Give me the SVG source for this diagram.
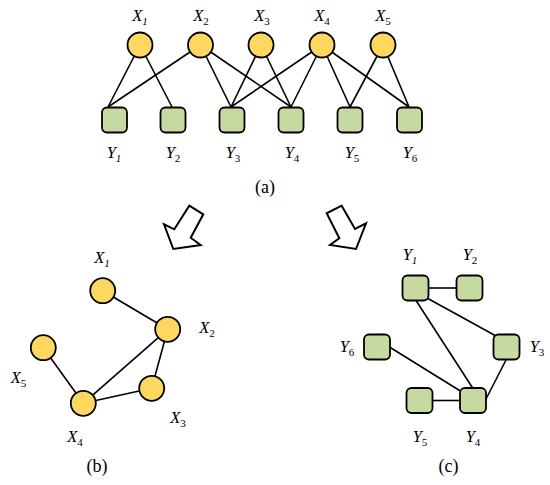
<svg xmlns="http://www.w3.org/2000/svg" width="550" height="485" viewBox="0 0 550 485">
<style>
.c{fill:#fed761;stroke:#000;stroke-width:1.8}
.s{fill:#c6d9a0;stroke:#000;stroke-width:1.8}
.e line{stroke:#000;stroke-width:1.6}
.arr{fill:#fff;stroke:#000;stroke-width:2;stroke-linejoin:miter}
text{font-family:"Liberation Serif","Times New Roman",serif;font-size:16.5px;fill:#000}
.v{font-style:italic;text-anchor:middle}
.cap{text-anchor:middle;font-size:18px}
.sub{font-size:11px;font-style:normal}
.si{font-size:11px;font-style:italic}
</style>
<rect width="550" height="485" fill="#fff"/>

<g id="connectors" class="e">
<line x1="140" y1="45" x2="108" y2="107"/>
<line x1="140" y1="45" x2="172" y2="107"/>
<line x1="200.5" y1="45" x2="108" y2="107"/>
<line x1="200.5" y1="45" x2="231" y2="107"/>
<line x1="200.5" y1="45" x2="291" y2="107"/>
<line x1="261" y1="45" x2="231" y2="107"/>
<line x1="261" y1="45" x2="291" y2="107"/>
<line x1="322" y1="45" x2="231" y2="107"/>
<line x1="322" y1="45" x2="291" y2="107"/>
<line x1="322" y1="45" x2="350" y2="107"/>
<line x1="322" y1="45" x2="409" y2="107"/>
<line x1="383" y1="45" x2="350" y2="107"/>
<line x1="383" y1="45" x2="409" y2="107"/>
<line x1="102.7" y1="290.7" x2="167.7" y2="329.3"/>
<line x1="167.7" y1="329.3" x2="83.3" y2="403.3"/>
<line x1="167.7" y1="329.3" x2="151.7" y2="388.3"/>
<line x1="151.7" y1="388.3" x2="83.3" y2="403.3"/>
<line x1="43.3" y1="347.7" x2="83.3" y2="403.3"/>
<line x1="428" y1="288" x2="457" y2="288"/>
<line x1="427" y1="298" x2="496" y2="336"/>
<line x1="415.7" y1="300" x2="473.3" y2="389"/>
<line x1="389" y1="346.7" x2="462" y2="392"/>
<line x1="506.5" y1="359" x2="485.5" y2="400"/>
<line x1="431" y1="400.5" x2="461" y2="400.5"/>
</g>

<g id="arrow-left"><polygon class="arr" points="189.3,205.7 203.3,214.3 190.7,237.7 200.7,245 173.3,249 164,224.3 174.3,229.3"/></g>
<g id="arrow-right"><polygon class="arr" points="341.7,205.7 326.7,213.3 339.3,238.3 330,245 356,249 366,223.3 355,229"/></g>

<g id="aX1"><circle class="c" cx="140" cy="45" r="12.5"/><text class="v" x="140" y="21">X<tspan class="si" dy="4">1</tspan></text></g>
<g id="aX2"><circle class="c" cx="200.5" cy="45" r="12.5"/><text class="v" x="201" y="21">X<tspan class="sub" dy="4">2</tspan></text></g>
<g id="aX3"><circle class="c" cx="261" cy="45" r="12.5"/><text class="v" x="262" y="21">X<tspan class="sub" dy="4">3</tspan></text></g>
<g id="aX4"><circle class="c" cx="322" cy="45" r="12.5"/><text class="v" x="322" y="21">X<tspan class="sub" dy="4">4</tspan></text></g>
<g id="aX5"><circle class="c" cx="383" cy="45" r="12.5"/><text class="v" x="383" y="21">X<tspan class="sub" dy="4">5</tspan></text></g>

<g id="aY1"><rect class="s" x="102" y="107.5" width="25" height="25" rx="5"/><text class="v" x="114" y="158">Y<tspan class="si" dy="4">1</tspan></text></g>
<g id="aY2"><rect class="s" x="160.5" y="107.5" width="25" height="25" rx="5"/><text class="v" x="173" y="158">Y<tspan class="sub" dy="4">2</tspan></text></g>
<g id="aY3"><rect class="s" x="219.5" y="107.5" width="25" height="25" rx="5"/><text class="v" x="233" y="158">Y<tspan class="sub" dy="4">3</tspan></text></g>
<g id="aY4"><rect class="s" x="278.5" y="107.5" width="25" height="25" rx="5"/><text class="v" x="292" y="158">Y<tspan class="sub" dy="4">4</tspan></text></g>
<g id="aY5"><rect class="s" x="337.5" y="107.5" width="25" height="25" rx="5"/><text class="v" x="352" y="158">Y<tspan class="sub" dy="4">5</tspan></text></g>
<g id="aY6"><rect class="s" x="397" y="107.5" width="25" height="25" rx="5"/><text class="v" x="410" y="158">Y<tspan class="sub" dy="4">6</tspan></text></g>
<text class="cap" x="265" y="193">(a)</text>

<g id="bX1"><circle class="c" cx="102.7" cy="290.7" r="12.5"/><text class="v" x="102" y="263">X<tspan class="si" dy="4">1</tspan></text></g>
<g id="bX2"><circle class="c" cx="167.7" cy="329.3" r="12.5"/><text class="v" x="207" y="333">X<tspan class="sub" dy="4">2</tspan></text></g>
<g id="bX3"><circle class="c" cx="151.7" cy="388.3" r="12.5"/><text class="v" x="178" y="423">X<tspan class="sub" dy="4">3</tspan></text></g>
<g id="bX4"><circle class="c" cx="83.3" cy="403.3" r="12.5"/><text class="v" x="75" y="441.5">X<tspan class="sub" dy="4">4</tspan></text></g>
<g id="bX5"><circle class="c" cx="43.3" cy="347.7" r="12.5"/><text class="v" x="18.5" y="382.5">X<tspan class="sub" dy="4">5</tspan></text></g>
<text class="cap" x="97" y="471.5">(b)</text>

<g id="cY1"><rect class="s" x="402.5" y="275.5" width="26" height="25" rx="5"/><text class="v" x="410" y="260">Y<tspan class="si" dy="4">1</tspan></text></g>
<g id="cY2"><rect class="s" x="456.5" y="275.5" width="26" height="25" rx="5"/><text class="v" x="470" y="260">Y<tspan class="sub" dy="4">2</tspan></text></g>
<g id="cY3"><rect class="s" x="493.5" y="334.5" width="26" height="25" rx="5"/><text class="v" x="537" y="351.5">Y<tspan class="sub" dy="4">3</tspan></text></g>
<g id="cY4"><rect class="s" x="460" y="388" width="26" height="25" rx="5"/><text class="v" x="473" y="441.5">Y<tspan class="sub" dy="4">4</tspan></text></g>
<g id="cY5"><rect class="s" x="406.5" y="388" width="26" height="25" rx="5"/><text class="v" x="420" y="441.5">Y<tspan class="sub" dy="4">5</tspan></text></g>
<g id="cY6"><rect class="s" x="364" y="334.5" width="26" height="25" rx="5"/><text class="v" x="347" y="351.5">Y<tspan class="sub" dy="4">6</tspan></text></g>
<text class="cap" x="448.5" y="471.5">(c)</text>
</svg>
